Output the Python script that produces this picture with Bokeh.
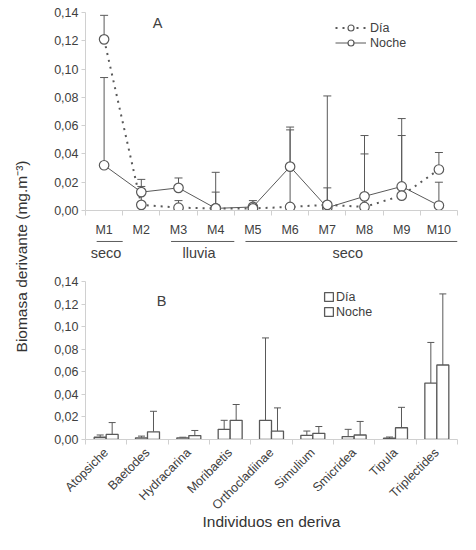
from math import pi
from bokeh.plotting import figure
from bokeh.models import (Range1d, FixedTicker, Legend, LegendItem, Label,
                          Whisker, TeeHead, ColumnDataSource)
from bokeh.layouts import column, row
from bokeh.embed import file_html
from bokeh.resources import INLINE
from bokeh.core.properties import value

# ---------------- data ----------------
months = ["M1", "M2", "M3", "M4", "M5", "M6", "M7", "M8", "M9", "M10"]
dia_a = [0.121, 0.004, 0.002, 0.0015, 0.0015, 0.0025, 0.004, 0.0025, 0.0105, 0.029]
dia_a_sd = [0.017, 0.013, 0.005, 0.0115, 0.0035, 0.0545, 0.012, 0.0375, 0.0425, 0.012]
noche_a = [0.032, 0.013, 0.016, 0.0015, 0.0025, 0.031, 0.002, 0.010, 0.017, 0.0035]
noche_a_sd = [0.062, 0.009, 0.007, 0.0255, 0.0045, 0.028, 0.079, 0.043, 0.048, 0.0165]

seasons = ["seco", "lluvia", "seco"]
season_first = ["M1", "M3", "M5"]
season_last = ["M1", "M4", "M10"]

taxa = ["Atopsiche", "Baetodes", "Hydracarina", "Moribaetis", "Orthocladiinae",
        "Simulium", "Smicridea", "Tipula", "Triplectides"]
dia_b = [0.002, 0.0015, 0.0015, 0.009, 0.017, 0.0037, 0.0026, 0.0012, 0.050]
dia_b_sd = [0.002, 0.0015, 0.0005, 0.008, 0.073, 0.0038, 0.0064, 0.001, 0.036]
noche_b = [0.0045, 0.0068, 0.0035, 0.017, 0.0075, 0.0055, 0.004, 0.0104, 0.066]
noche_b_sd = [0.0105, 0.0182, 0.0045, 0.014, 0.0205, 0.006, 0.012, 0.0181, 0.063]

series = ["Día", "Noche"]
panels = ["A", "B"]
y_ticks = [0.0, 0.02, 0.04, 0.06, 0.08, 0.10, 0.12, 0.14]
y_tick_labels = ["0,00", "0,02", "0,04", "0,06", "0,08", "0,10", "0,12", "0,14"]
y_title = "Biomasa derivante (mg.m\u207b\u00b3)"
x_title_b = "Individuos en deriva"

# ---------------- style ----------------
FONT = "Liberation Sans"
GRAY = "#595959"
AXIS = "#d0d0d0"
TXT = "#404040"
TICK_FS = "12.5px"


def style_axes(p):
    for ax in p.axis:
        ax.axis_line_color = AXIS
        ax.major_tick_line_color = AXIS
        ax.minor_tick_line_color = AXIS
        ax.major_label_text_font = FONT
        ax.major_label_text_font_size = TICK_FS
        ax.major_label_text_color = TXT
    p.yaxis.ticker = FixedTicker(ticks=y_ticks, minor_ticks=[])
    p.yaxis.major_label_overrides = dict(zip(y_ticks, y_tick_labels))
    p.yaxis.major_tick_out = 4
    p.yaxis.major_tick_in = 0
    p.yaxis.major_label_standoff = 3
    p.xaxis.major_tick_out = 0
    p.xaxis.major_tick_in = 0
    p.xaxis.minor_tick_out = 5
    p.xaxis.minor_tick_in = 0
    p.grid.visible = False
    p.outline_line_color = None


def base_fig(w, h, xr, left, top, bottom):
    return figure(width=w, height=h, x_range=xr, y_range=Range1d(0, 0.14),
                  toolbar_location=None, output_backend="svg",
                  min_border_left=left, min_border_right=3,
                  min_border_top=top, min_border_bottom=bottom)


# ---------------- panel A ----------------
xa = [i + 1 for i in range(len(months))]
pa = base_fig(424, 240, Range1d(0.5, len(months) + 0.5), 49, 12, 30)
style_axes(pa)
pa.xaxis.ticker = FixedTicker(ticks=xa, minor_ticks=[i + 0.5 for i in range(len(months) + 1)])
pa.xaxis.major_label_overrides = dict(zip(xa, months))
pa.xaxis.major_label_standoff = 7

for vals, sds in ((dia_a, dia_a_sd), (noche_a, noche_a_sd)):
    src = ColumnDataSource(dict(x=xa, lo=vals, up=[v + s for v, s in zip(vals, sds)]))
    pa.add_layout(Whisker(source=src, base="x", lower="lo", upper="up",
                          dimension="height", lower_head=None,
                          upper_head=TeeHead(size=8, line_color=GRAY, line_width=1),
                          line_color=GRAY, line_width=1, level="underlay"))

ln = pa.line(xa, noche_a, line_color=GRAY, line_width=1)
ld = pa.line(xa, dia_a, line_color=GRAY, line_width=2, line_dash="2 5")
sn = pa.scatter(xa, noche_a, size=9.5, fill_color="white", line_color=GRAY, line_width=1.2)
sd = pa.scatter(xa, dia_a, size=9.5, fill_color="white", line_color=GRAY, line_width=1.2)

leg_a = Legend(items=[LegendItem(label=series[0], renderers=[ld, sd]),
                      LegendItem(label=series[1], renderers=[ln, sn])],
               location=(250, 160), border_line_color=None, background_fill_alpha=0,
               padding=0, margin=0, spacing=0, label_standoff=4,
               glyph_width=31, glyph_height=15, label_height=15,
               label_text_font=FONT, label_text_font_size=TICK_FS, label_text_color=TXT)
pa.add_layout(leg_a)
pa.add_layout(Label(x=72, y=188, x_units="screen", y_units="screen", text=panels[0],
                    text_align="center", text_baseline="middle", text_font=FONT,
                    text_font_size="14.5px", text_color=TXT))

# ---------------- season strip ----------------
ps = figure(width=424, height=24, x_range=pa.x_range, y_range=Range1d(0, 1),
            toolbar_location=None, output_backend="svg",
            x_axis_location=None, y_axis_location=None,
            min_border_left=49, min_border_right=3, min_border_top=0, min_border_bottom=0)
ps.grid.visible = False
ps.outline_line_color = None
i0 = [months.index(m) + 1 for m in season_first]
i1 = [months.index(m) + 1 for m in season_last]
ps.segment(x0=[a - 0.2 for a in i0], y0=[0.96] * len(seasons),
           x1=[b + 0.5 for b in i1], y1=[0.96] * len(seasons),
           line_color=GRAY, line_width=1)
ps.text(x=[(a + b) / 2 + 0.05 for a, b in zip(i0, i1)], y=[0.48] * len(seasons), text=seasons,
        text_font=value(FONT), text_font_size="14.5px", text_color=TXT,
        text_align="center", text_baseline="middle")

# ---------------- panel B ----------------
xb = [i + 1 for i in range(len(taxa))]
pb = base_fig(424, 270, Range1d(0.5, len(taxa) + 0.5), 45, 17, 95)
style_axes(pb)
pb.xaxis.ticker = FixedTicker(ticks=xb, minor_ticks=[i + 0.5 for i in range(len(taxa) + 1)])
pb.xaxis.major_label_overrides = dict(zip(xb, taxa))
pb.xaxis.major_label_orientation = pi / 4
pb.xaxis.major_label_standoff = 6
pb.xaxis.axis_label = x_title_b
pb.xaxis.axis_label_standoff = -7
pb.xaxis.axis_label_text_font = FONT
pb.xaxis.axis_label_text_font_size = "15.5px"
pb.xaxis.axis_label_text_font_style = "normal"
pb.xaxis.axis_label_text_color = "#333333"

bw = 0.29
bars = []
for off, vals, sds in ((-bw / 2, dia_b, dia_b_sd), (bw / 2, noche_b, noche_b_sd)):
    xs = [x + off for x in xb]
    src = ColumnDataSource(dict(x=xs, top=vals, up=[v + s for v, s in zip(vals, sds)]))
    pb.add_layout(Whisker(source=src, base="x", lower="top", upper="up",
                          dimension="height", lower_head=None,
                          upper_head=TeeHead(size=7, line_color=GRAY, line_width=1),
                          line_color=GRAY, line_width=1, level="underlay"))
    bars.append(pb.vbar(x="x", top="top", width=bw, bottom=0, source=src,
                        fill_color="white", line_color=GRAY, line_width=1.3))

leg_b = Legend(items=[LegendItem(label=s, renderers=[r]) for s, r in zip(series, bars)],
               location=(238, 120), border_line_color=None, background_fill_alpha=0,
               padding=0, margin=0, spacing=0, label_standoff=2,
               glyph_width=11, glyph_height=11, label_height=15,
               label_text_font=FONT, label_text_font_size=TICK_FS, label_text_color=TXT)
pb.add_layout(leg_b)
pb.add_layout(Label(x=76, y=139, x_units="screen", y_units="screen", text=panels[1],
                    text_align="center", text_baseline="middle", text_font=FONT,
                    text_font_size="14.5px", text_color=TXT))

# ---------------- y title ----------------
pt = figure(width=36, height=534, x_range=Range1d(0, 1), y_range=Range1d(0, 1),
            toolbar_location=None, output_backend="svg",
            x_axis_location=None, y_axis_location=None, min_border=0)
pt.grid.visible = False
pt.outline_line_color = None
pt.add_layout(Label(x=21, y=278, x_units="screen", y_units="screen", text=y_title,
                    angle=pi / 2, text_align="center", text_baseline="middle",
                    text_font=FONT, text_font_size="15.5px", text_color="#333333"))

layout = row(pt, column(pa, ps, pb))
open("out.html", "w").write(file_html(layout, INLINE))
